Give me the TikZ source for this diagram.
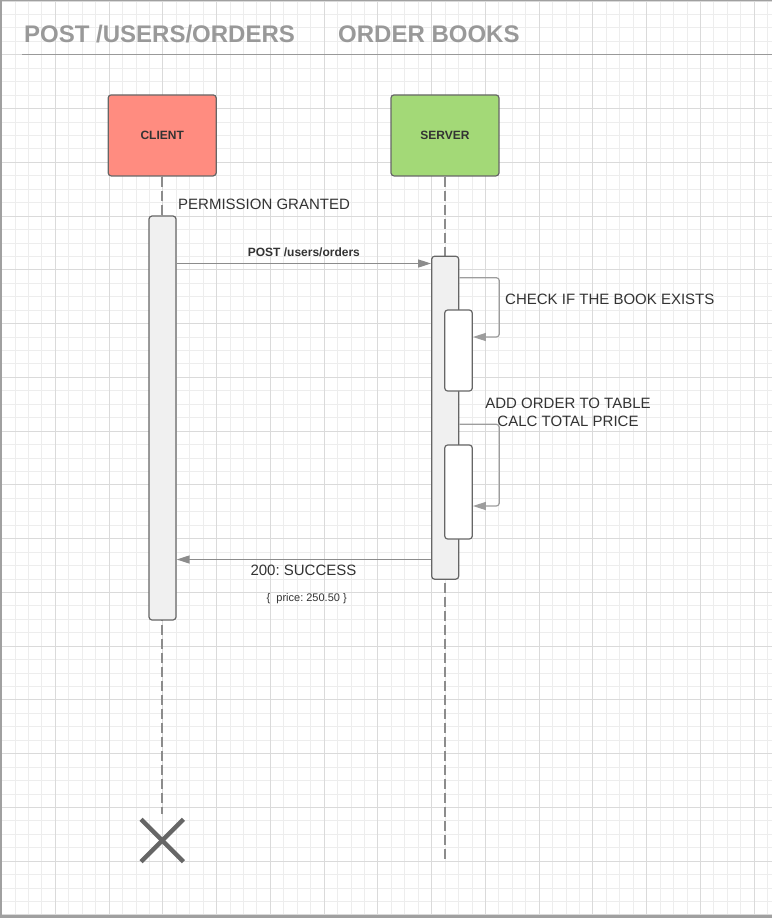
\documentclass[tikz,border=0pt]{standalone}
\usepackage{fontspec}
\setmainfont{Liberation Sans}
\usetikzlibrary{arrows.meta}

\definecolor{gridminor}{HTML}{EDEDED}
\definecolor{gridmajor}{HTML}{DADADA}
\definecolor{frame}{HTML}{A0A0A0}
\definecolor{titlegray}{HTML}{999999}
\definecolor{ink}{HTML}{333333}
\definecolor{edge}{HTML}{666666}
\definecolor{wire}{HTML}{8C8C8C}
\definecolor{clientfill}{HTML}{FF8C80}
\definecolor{serverfill}{HTML}{A3D977}
\definecolor{barfill}{HTML}{F0F0F0}

\tikzset{
  actor/.style={draw=edge, line width=1.2pt, rounded corners=3pt, inner sep=0pt,
    minimum width=108pt, minimum height=81pt, text=ink,
    font=\fontsize{12}{14}\selectfont\bfseries},
  activation/.style={draw=edge, line width=1.2pt, rounded corners=3pt, inner sep=0pt,
    minimum width=27pt},
  lifeline/.style={draw=wire, line width=1.5pt, dash pattern=on 10pt off 4pt},
  msg/.style={draw=wire, line width=1.3pt, -{Triangle[length=13pt,width=8pt]}, wire},
  selfmsg/.style={draw=wire!85, line width=1.2pt, rounded corners=3pt,
    -{Triangle[length=13pt,width=8pt]}},
  lbl/.style={text=ink, inner sep=0pt, font=\fontsize{15}{18}\selectfont},
  title/.style={text=titlegray, inner sep=0pt, font=\fontsize{24}{28}\selectfont\bfseries},
}

\begin{document}
\frenchspacing
\begin{tikzpicture}[x=1pt, y=-1pt]
  \useasboundingbox (0,0) rectangle (772,918);
  \fill[white] (0,0) rectangle (772,918);

  % background grid
  \foreach \k in {0,...,57}
    \draw[gridminor, line width=0.8pt] ({1.5+13.44*\k},0) -- ({1.5+13.44*\k},918);
  \foreach \k in {0,...,68}
    \draw[gridminor, line width=0.8pt] (0,{1+13.44*\k}) -- (772,{1+13.44*\k});
  \foreach \k in {0,4,...,56}
    \draw[gridmajor, line width=0.9pt] ({1.5+13.44*\k},0) -- ({1.5+13.44*\k},918);
  \foreach \k in {0,4,...,68}
    \draw[gridmajor, line width=0.9pt] (0,{1+13.44*\k}) -- (772,{1+13.44*\k});

  % page frame
  \draw[frame, line width=2pt] (1,0) -- (1,918);
  \draw[frame, line width=1pt] (0,0.5) -- (772,0.5);
  \draw[frame, line width=3pt] (0,916.5) -- (772,916.5);

  % header
  \node[title, anchor=base west] (ttl) at (24,42) {POST /USERS/ORDERS};
  \node[title, anchor=base west] (sub) at (338,42) {ORDER BOOKS};
  \coordinate (hl) at (22,54.3);
  \coordinate (hr) at (772,54.3);
  \draw[titlegray, line width=1.5pt] (hl) -- (hr);

  % participants
  \node[actor, fill=clientfill] (client) at (162.2,135.4) {CLIENT};
  \node[actor, fill=serverfill] (server) at (445,135.4) {SERVER};

  % lifelines
  \coordinate (clientend) at (162.2,814);
  \coordinate (serverend) at (445,862);
  \draw[lifeline] (client.south) -- (clientend);
  \draw[lifeline] (server.south) -- (serverend);

  % activation bars
  \node[activation, fill=barfill, minimum height=404pt] (cbar) at (162.5,418) {};
  \node[activation, fill=barfill, minimum height=323pt] (sbar) at (445.2,417.7) {};
  \node[activation, fill=white, minimum width=27.6pt, minimum height=81pt] (chk) at (458.5,350.5) {};
  \node[activation, fill=white, minimum width=27.6pt, minimum height=94pt] (add) at (458.5,492) {};

  % destruction mark
  \node[inner sep=0pt, minimum size=42pt] (kill) at (162.2,840.5) {};
  \draw[edge, line width=4.5pt] (kill.north west) -- (kill.south east);
  \draw[edge, line width=4.5pt] (kill.north east) -- (kill.south west);

  % messages
  \coordinate (yreq) at (0,263.5);
  \coordinate (yres) at (0,559.5);
  \draw[msg] (cbar.east |- yreq) -- (sbar.west |- yreq)
    node[midway, above=6pt, text=ink, inner sep=0pt, font=\fontsize{12}{14}\selectfont\bfseries] (reqlbl) {POST /users/orders};
  \draw[msg] (sbar.west |- yres) -- (cbar.east |- yres);

  % self calls
  \coordinate (l1a) at (499.3,277.7);
  \coordinate (l1b) at (499.3,337);
  \draw[selfmsg] (sbar.east |- l1a) -- (l1a) -- (l1b) -- (chk.east |- l1b);
  \coordinate (l2a) at (499.3,424.3);
  \coordinate (l2b) at (499.3,506);
  \draw[selfmsg] (sbar.east |- l2a) -- (l2a) -- (l2b) -- (add.east |- l2b);

  % labels
  \node[lbl, anchor=west] (perm) at (178,204) {PERMISSION GRANTED};
  \node[lbl, anchor=west] (chklbl) at (505,299) {CHECK IF THE BOOK EXISTS};
  \node[lbl] (addlbl1) at (568,403) {ADD ORDER TO TABLE};
  \node[lbl] (addlbl2) at (568,421) {CALC TOTAL PRICE};
  \node[lbl] (reslbl) at (303.5,570.5) {200: SUCCESS};
  \node[text=ink, inner sep=0pt, font=\fontsize{11}{13}\selectfont] (body) at (306.7,599) {\{\ \ price: 250.50 \}};
\end{tikzpicture}
\end{document}
